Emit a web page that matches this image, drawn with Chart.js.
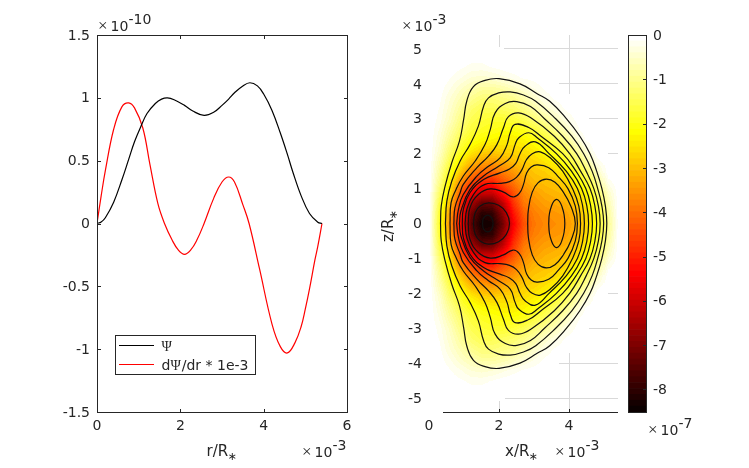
<!DOCTYPE html>
<html>
<head>
<meta charset="utf-8">
<script src="https://cdn.jsdelivr.net/npm/chart.js@4"></script>
<style>
  html, body { margin: 0; background: #fff; }
  canvas { position: absolute; left: 0; top: 0; }
</style>
</head>
<body>
<canvas id="lines" width="749" height="468"></canvas>
<canvas id="field" width="749" height="468"></canvas>
<canvas id="bar" width="749" height="468"></canvas>
<script>
// left panel
var psiR = [0,.1,.2,.4,.6,.76,.9,1.05,1.2,1.4,1.55,1.69,1.85,2.1,2.3,2.57,2.8,3.0,3.16,3.3,3.5,3.67,3.85,4.0,4.2,4.4,4.57,4.7,4.9,5.1,5.3,5.4];
var psiV = [0,.012,.046,.17,.35,.51,.65,.77,.875,.955,.99,1.0,.985,.94,.895,.86,.885,.94,.99,1.04,1.095,1.12,1.095,1.03,.9,.72,.55,.41,.22,.08,.01,0];
var dpsiR = [0,.1,.2,.4,.6,.76,.9,1.1,1.27,1.46,1.62,1.8,1.95,2.1,2.25,2.4,2.57,2.8,3.0,3.16,3.3,3.5,3.65,3.9,4.2,4.4,4.57,4.75,4.9,5.0,5.1,5.23,5.3,5.4];
var dpsiV = [0,.22,.42,.75,.93,.96,.92,.76,.47,.16,0,-.13,-.21,-.245,-.21,-.13,0,.2,.33,.37,.33,.15,0,-.36,-.8,-.98,-1.03,-.95,-.82,-.68,-.52,-.29,-.18,0];
var rTicks = [0,2,4,6];
var vTicks = [1.5,1,.5,0,-.5,-1,-1.5];

// right panel, upper half of each contour (the plot is symmetric in z)
var contourX = [
  [.33,.35,.46,.65,.87,.99,1.08,1.27,1.60,2.00,2.60,3.09,3.45,3.93,4.31,4.60,4.79,4.94,5.04,5.08],
  [.47,.51,.65,.89,1.17,1.41,1.56,1.70,1.99,2.32,2.70,3.05,3.62,4.08,4.42,4.66,4.82,4.94,4.99],
  [.60,.63,.77,.98,1.32,1.60,1.75,1.89,2.18,2.51,2.90,3.30,3.82,4.22,4.49,4.71,4.84,4.89],
  [.71,.74,.89,.98,1.37,1.70,1.94,2.13,2.27,2.56,2.95,3.58,4.02,4.33,4.60,4.74,4.79],
  [.79,.84,.98,1.37,1.70,2.03,2.23,2.32,2.46,2.85,3.20,3.82,4.20,4.48,4.62,4.67],
  [.87,.91,1.17,1.56,1.99,2.32,2.46,2.56,2.85,3.10,3.64,4.07,4.36,4.51,4.56],
  [.95,.98,1.17,1.56,2.03,2.30,2.48,2.60,2.75,3.04,3.43,3.92,4.24,4.39,4.44],
  [1.03,1.08,1.27,1.60,2.03,2.30,2.50,2.66,2.78,2.95,3.18,3.50,3.82,4.10,4.28,4.33],
  [1.12,1.17,1.41,1.75,2.13,2.40,2.58,2.70,2.79,2.92,3.09,3.42,3.71,3.97,4.18,4.24],
  [1.27,1.32,1.46,1.70,1.99,2.21,2.30],
  [1.53,1.56,1.68,1.79,1.83],
  [2.82,2.84,2.95,3.12,3.35,3.60,3.85,4.05,4.18],
  [3.42,3.44,3.50,3.57,3.65,3.73,3.80,3.86,3.88]
];
var contourZ = [
  [0,.50,1.07,1.74,2.36,2.98,3.51,3.92,4.10,4.15,4.00,3.72,3.50,3.00,2.50,2.00,1.50,1.00,.50,0],
  [0,.64,1.21,1.79,2.26,2.79,3.36,3.60,3.74,3.77,3.68,3.50,3.00,2.50,2.00,1.50,1.00,.50,0],
  [0,.59,.97,1.36,1.79,2.26,2.69,3.17,3.44,3.49,3.35,3.00,2.50,2.00,1.50,1.00,.50,0],
  [0,.45,.88,1.12,1.60,1.93,2.26,2.75,3.06,3.17,3.00,2.50,2.00,1.50,1.00,.50,0],
  [0,.40,.83,1.36,1.64,1.88,2.26,2.60,2.84,2.75,2.50,2.00,1.50,1.00,.50,0],
  [0,.35,.97,1.36,1.64,1.88,2.26,2.45,2.60,2.45,2.00,1.50,1.00,.50,0],
  [0,.40,.88,1.26,1.45,1.56,1.72,2.00,2.22,2.34,2.00,1.50,1.00,.50,0],
  [0,.40,.83,1.12,1.15,1.20,1.32,1.55,1.82,2.00,2.05,1.85,1.50,1.00,.50,0],
  [0,.45,.83,.99,.90,.76,.86,1.12,1.45,1.62,1.68,1.60,1.32,1.00,.50,0],
  [0,.31,.50,.59,.52,.31,0],
  [0,.16,.24,.16,0],
  [0,.40,.90,1.17,1.27,1.18,.88,.50,0],
  [0,.28,.50,.64,.69,.63,.48,.25,0]
];

// colour field (x 1e-7), columns x = 0,.3..5.4 rows z = 0,.3..5.4
var fieldStep = 0.3;
var fieldRows = [
  [0,-2.0,-3.7,-5.3,-7.5,-8.4,-8.3,-7.2,-5.5,-4.4,-3.9,-3.7,-3.6,-3.5,-3.2,-2.7,-2.0,-1.0,0],
  [0,-1.9,-3.5,-5.1,-7.2,-8.1,-8.0,-6.8,-5.2,-4.2,-3.8,-3.6,-3.5,-3.4,-3.1,-2.6,-1.9,-.9,0],
  [0,-1.7,-3.1,-4.8,-6.5,-7.3,-7.2,-6.2,-4.8,-3.9,-3.6,-3.4,-3.3,-3.2,-2.9,-2.4,-1.7,-.7,0],
  [0,-1.4,-2.7,-4.3,-5.4,-6.0,-6.0,-5.2,-4.4,-3.7,-3.4,-3.2,-3.1,-3.0,-2.7,-2.2,-1.4,-.5,0],
  [0,-1.1,-2.4,-3.6,-4.5,-5.0,-5.0,-4.4,-3.9,-3.4,-3.1,-3.0,-2.9,-2.7,-2.3,-1.8,-1.0,-.2,0],
  [0,-.9,-2.0,-2.9,-3.7,-4.1,-4.1,-3.8,-3.5,-3.1,-2.9,-2.8,-2.6,-2.4,-1.9,-1.3,-.6,0,0],
  [0,-.7,-1.6,-2.4,-3.0,-3.3,-3.4,-3.2,-3.0,-2.8,-2.7,-2.5,-2.3,-1.9,-1.4,-.8,-.2,0,0],
  [0,-.5,-1.3,-1.9,-2.4,-2.7,-2.8,-2.7,-2.7,-2.6,-2.4,-2.2,-1.9,-1.5,-.9,-.4,0,0,0],
  [0,-.4,-1.0,-1.6,-2.0,-2.2,-2.3,-2.4,-2.4,-2.3,-2.1,-1.8,-1.4,-1.0,-.5,-.1,0,0,0],
  [0,-.3,-.8,-1.3,-1.7,-1.9,-2.0,-2.1,-2.1,-2.0,-1.7,-1.4,-1.0,-.6,-.2,0,0,0,0],
  [0,-.2,-.6,-1.1,-1.5,-1.7,-1.8,-1.8,-1.7,-1.5,-1.2,-.9,-.6,-.3,-.1,0,0,0,0],
  [0,-.15,-.5,-.9,-1.3,-1.5,-1.5,-1.4,-1.3,-1.1,-.8,-.5,-.3,-.1,0,0,0,0,0],
  [0,-.1,-.4,-.7,-1.0,-1.2,-1.2,-1.1,-1.0,-.75,-.5,-.25,-.1,0,0,0,0,0,0],
  [0,-.05,-.25,-.5,-.7,-.85,-.85,-.75,-.6,-.4,-.25,-.1,0,0,0,0,0,0,0],
  [0,0,-.12,-.25,-.4,-.45,-.4,-.3,-.2,-.1,-.05,0,0,0,0,0,0,0,0],
  [0,0,-.05,-.1,-.18,-.18,-.12,-.05,0,0,0,0,0,0,0,0,0,0,0],
  [0,0,-.02,-.04,-.05,-.05,-.03,0,0,0,0,0,0,0,0,0,0,0,0],
  [0,0,0,0,0,0,0,0,0,0,0,0,0,0,0,0,0,0,0],
  [0,0,0,0,0,0,0,0,0,0,0,0,0,0,0,0,0,0,0]
];
var diskR = 5.43;
var fieldMin = -8.51;
var xTicks = [0,2,4];
var zTicks = [5,4,3,2,1,0,-1,-2,-3,-4,-5];
var barTicks = [0,-1,-2,-3,-4,-5,-6,-7,-8];

var INK = '#262626';
var FONT = '14px "DejaVu Sans"';

// matlab hot(64)
function hot(i) {
  var r = Math.min(1, (i + 1) / 24);
  var g = i < 24 ? 0 : Math.min(1, (i - 23) / 24);
  var b = i < 48 ? 0 : (i - 47) / 16;
  return 'rgb(' + Math.round(r * 255) + ',' + Math.round(g * 255) + ',' + Math.round(b * 255) + ')';
}
var hotColors = [];
for (var c = 0; c < 64; c++) hotColors.push(hot(c));

function colorOf(v) {
  var i = Math.floor((v - fieldMin) / -fieldMin * 64);
  return hotColors[Math.max(0, Math.min(63, i))];
}

// bilinear shading of the table
function fieldAt(vx, vz) {
  var fx = vx / fieldStep, fz = Math.abs(vz) / fieldStep;
  var i = Math.min(17, Math.floor(fx)), j = Math.min(17, Math.floor(fz));
  var a = fx - i, b = fz - j;
  var r0 = fieldRows[j], r1 = fieldRows[j + 1];
  return (r0[i] * (1 - a) + r0[i + 1] * a) * (1 - b) + (r1[i] * (1 - a) + r1[i + 1] * a) * b;
}

function pts(xs, ys) {
  return xs.map(function (x, i) { return { x: x, y: ys[i] }; });
}

function mirrored(xs, zs) {
  var top = pts(xs, zs);
  var low = [];
  for (var i = xs.length - 2; i >= 0; i--) low.push({ x: xs[i], y: -zs[i] });
  return top.concat(low);
}

function text(ctx, str, x, y, font, align) {
  ctx.font = font;
  ctx.fillStyle = INK;
  ctx.textAlign = align || 'left';
  ctx.textBaseline = 'alphabetic';
  ctx.fillText(str, x, y);
}

function exponent(ctx, x, y, power) {
  text(ctx, '\u00d7', x, y, '17px "Liberation Serif"');
  text(ctx, '10', x + 12.5, y, FONT);
  text(ctx, power, x + 30.5, y - 7, FONT);
}

function radiusLabel(ctx, str, x, y) {
  text(ctx, str, x, y, '15px "DejaVu Sans"');
  var w = ctx.measureText(str).width;
  text(ctx, '\u2217', x + w - 0.5, y + 4, '11px "DejaVu Sans"');
}

// text with the Psi in a serif face like the matlab symbol font
function legendText(ctx, str, x, y) {
  var parts = str.split('\u03a8');
  for (var i = 0; i < parts.length; i++) {
    if (i > 0) {
      text(ctx, '\u03a8', x, y, '14px "Liberation Serif"');
      x += ctx.measureText('\u03a8').width + 1;
    }
    text(ctx, parts[i], x, y, FONT);
    x += ctx.measureText(parts[i]).width;
  }
}

function line(ctx, x0, y0, x1, y1, color, width) {
  ctx.beginPath();
  ctx.moveTo(x0, y0);
  ctx.lineTo(x1, y1);
  ctx.strokeStyle = color;
  ctx.lineWidth = width || 1;
  ctx.stroke();
}

function axis(side, values, min, max, fit, extra) {
  return Object.assign({
    type: 'linear',
    min: min,
    max: max,
    position: side,
    afterBuildTicks: function (s) { s.ticks = values.map(function (v) { return { value: v }; }); },
    afterFit: function (s) { if (side === 'bottom') s.height = fit; else s.width = fit; },
    border: { display: false },
    grid: { display: false, drawTicks: false },
    ticks: {
      color: INK,
      font: { family: 'DejaVu Sans', size: 14 },
      padding: side === 'bottom' ? 6 : 7,
      labelOffset: side === 'bottom' ? 0 : 1,
      maxRotation: 0,
      autoSkip: false,
      callback: function (v) { return String(v); }
    }
  }, extra || {});
}

var linesDecor = {
  id: 'linesDecor',
  afterDraw: function (chart) {
    var ctx = chart.ctx, x = chart.scales.x, y = chart.scales.y;
    ctx.save();
    ctx.strokeStyle = INK;
    ctx.lineWidth = 1;
    ctx.strokeRect(97.5, 35.5, 250, 377);
    rTicks.forEach(function (v) {
      var p = Math.round(x.getPixelForValue(v)) + 0.5;
      line(ctx, p, 412, p, 409, INK);
      line(ctx, p, 36, p, 39, INK);
    });
    vTicks.forEach(function (v) {
      var p = Math.round(y.getPixelForValue(v)) + 0.5;
      line(ctx, 98, p, 101, p, INK);
      line(ctx, 347, p, 344, p, INK);
    });
    // legend
    ctx.fillStyle = '#fff';
    ctx.fillRect(115.5, 335.5, 140, 39);
    ctx.strokeStyle = INK;
    ctx.lineWidth = 1;
    ctx.strokeRect(115.5, 335.5, 140, 39);
    chart.data.datasets.forEach(function (d, i) {
      var ly = 345.5 + i * 19;
      line(ctx, 119, ly, 154, ly, d.borderColor, 1.2);
      legendText(ctx, d.label, 161.5, ly + 5);
    });
    radiusLabel(ctx, 'r/R', 206.5, 456);
    exponent(ctx, 302, 457, '-3');
    exponent(ctx, 98, 31, '-10');
    ctx.restore();
  }
};

var heat = {
  id: 'heat',
  beforeDatasetsDraw: function (chart) {
    var ctx = chart.ctx, x = chart.scales.x, y = chart.scales.y;
    var step = 1 / 34.9;
    ctx.save();
    for (var vx = 0; vx < 5.4; vx += step) {
      var px = Math.round(x.getPixelForValue(vx));
      for (var vz = -5.4; vz < 5.4; vz += step) {
        if (Math.sqrt(vx * vx + vz * vz) > diskR) continue;
        ctx.fillStyle = colorOf(fieldAt(vx, vz));
        var py = Math.round(y.getPixelForValue(vz));
        ctx.fillRect(px, py - 1, 2, 2);
      }
    }
    ctx.restore();
  },
  afterDraw: function (chart) {
    var ctx = chart.ctx, x = chart.scales.x;
    ctx.save();
    line(ctx, x.getPixelForValue(0.4), 412.5, x.right, 412.5, INK);
    [2, 4].forEach(function (v) {
      var p = Math.round(x.getPixelForValue(v)) + 0.5;
      line(ctx, p, 412, p, 409, INK);
    });
    radiusLabel(ctx, 'x/R', 505, 456);
    exponent(ctx, 555, 457, '-3');
    exponent(ctx, 402, 31, '-3');
    ctx.translate(393, 224);
    ctx.rotate(-Math.PI / 2);
    radiusLabel(ctx, 'z/R', -18, 0);
    ctx.restore();
  }
};

var barDecor = {
  id: 'barDecor',
  afterDraw: function (chart) {
    var ctx = chart.ctx, y = chart.scales.y;
    ctx.save();
    ctx.strokeStyle = INK;
    ctx.lineWidth = 1;
    ctx.strokeRect(628.5, 35.5, 18, 377);
    barTicks.forEach(function (v) {
      if (v === 0) return;
      var p = Math.round(y.getPixelForValue(v)) + 0.5;
      line(ctx, 646, p, 643, p, INK);
    });
    exponent(ctx, 648, 435, '-7');
    ctx.restore();
  }
};

new Chart(document.getElementById('lines'), {
  type: 'scatter',
  data: {
    datasets: [
      { label: '\u03a8', data: pts(psiR, psiV), showLine: true, tension: 0.4, borderColor: '#000', borderWidth: 1.2, pointRadius: 0 },
      { label: 'd\u03a8/dr * 1e-3', data: pts(dpsiR, dpsiV), showLine: true, tension: 0.4, borderColor: '#ff0000', borderWidth: 1.2, pointRadius: 0 }
    ]
  },
  options: {
    responsive: false,
    animation: false,
    layout: { padding: { left: 57, right: 402, top: 35, bottom: 26 } },
    plugins: { legend: { display: false }, tooltip: { enabled: false } },
    scales: {
      x: axis('bottom', rTicks, 0, 6, 30),
      y: axis('left', vTicks, -1.5, 1.5, 40)
    }
  },
  plugins: [linesDecor]
});

var GRID = { display: true, color: '#d9d9d9', lineWidth: 1, drawTicks: false };

new Chart(document.getElementById('field'), {
  type: 'scatter',
  data: {
    datasets: contourX.map(function (xs, i) {
      return { data: mirrored(xs, contourZ[i]), showLine: true, tension: 0.45, borderColor: '#111', borderWidth: 1.2, pointRadius: 0 };
    })
  },
  options: {
    responsive: false,
    animation: false,
    layout: { padding: { left: 389, right: 131, top: 35, bottom: 26 } },
    plugins: { legend: { display: false }, tooltip: { enabled: false } },
    scales: {
      x: axis('bottom', xTicks, 0, 5.4, 30, { grid: GRID }),
      y: axis('left', zTicks, -5.4, 5.4, 40, { grid: GRID })
    }
  },
  plugins: [heat]
});

var barSets = hotColors.map(function (col, i) {
  var lo = fieldMin + i * -fieldMin / 64;
  var hi = fieldMin + (i + 1) * -fieldMin / 64;
  return { data: [[lo, hi]], backgroundColor: col, borderWidth: 0, barPercentage: 1, categoryPercentage: 1, grouped: false };
});

new Chart(document.getElementById('bar'), {
  type: 'bar',
  data: { labels: [''], datasets: barSets },
  options: {
    responsive: false,
    animation: false,
    layout: { padding: { left: 628, right: 62, top: 35, bottom: 56 } },
    plugins: { legend: { display: false }, tooltip: { enabled: false } },
    scales: {
      x: { display: false },
      y: axis('right', barTicks, fieldMin, 0, 40, { ticks: {
        color: INK, font: { family: 'DejaVu Sans', size: 14 }, padding: 6, labelOffset: 1, autoSkip: false,
        callback: function (v) { return String(v); }
      } })
    }
  },
  plugins: [barDecor]
});
</script>
</body>
</html>
